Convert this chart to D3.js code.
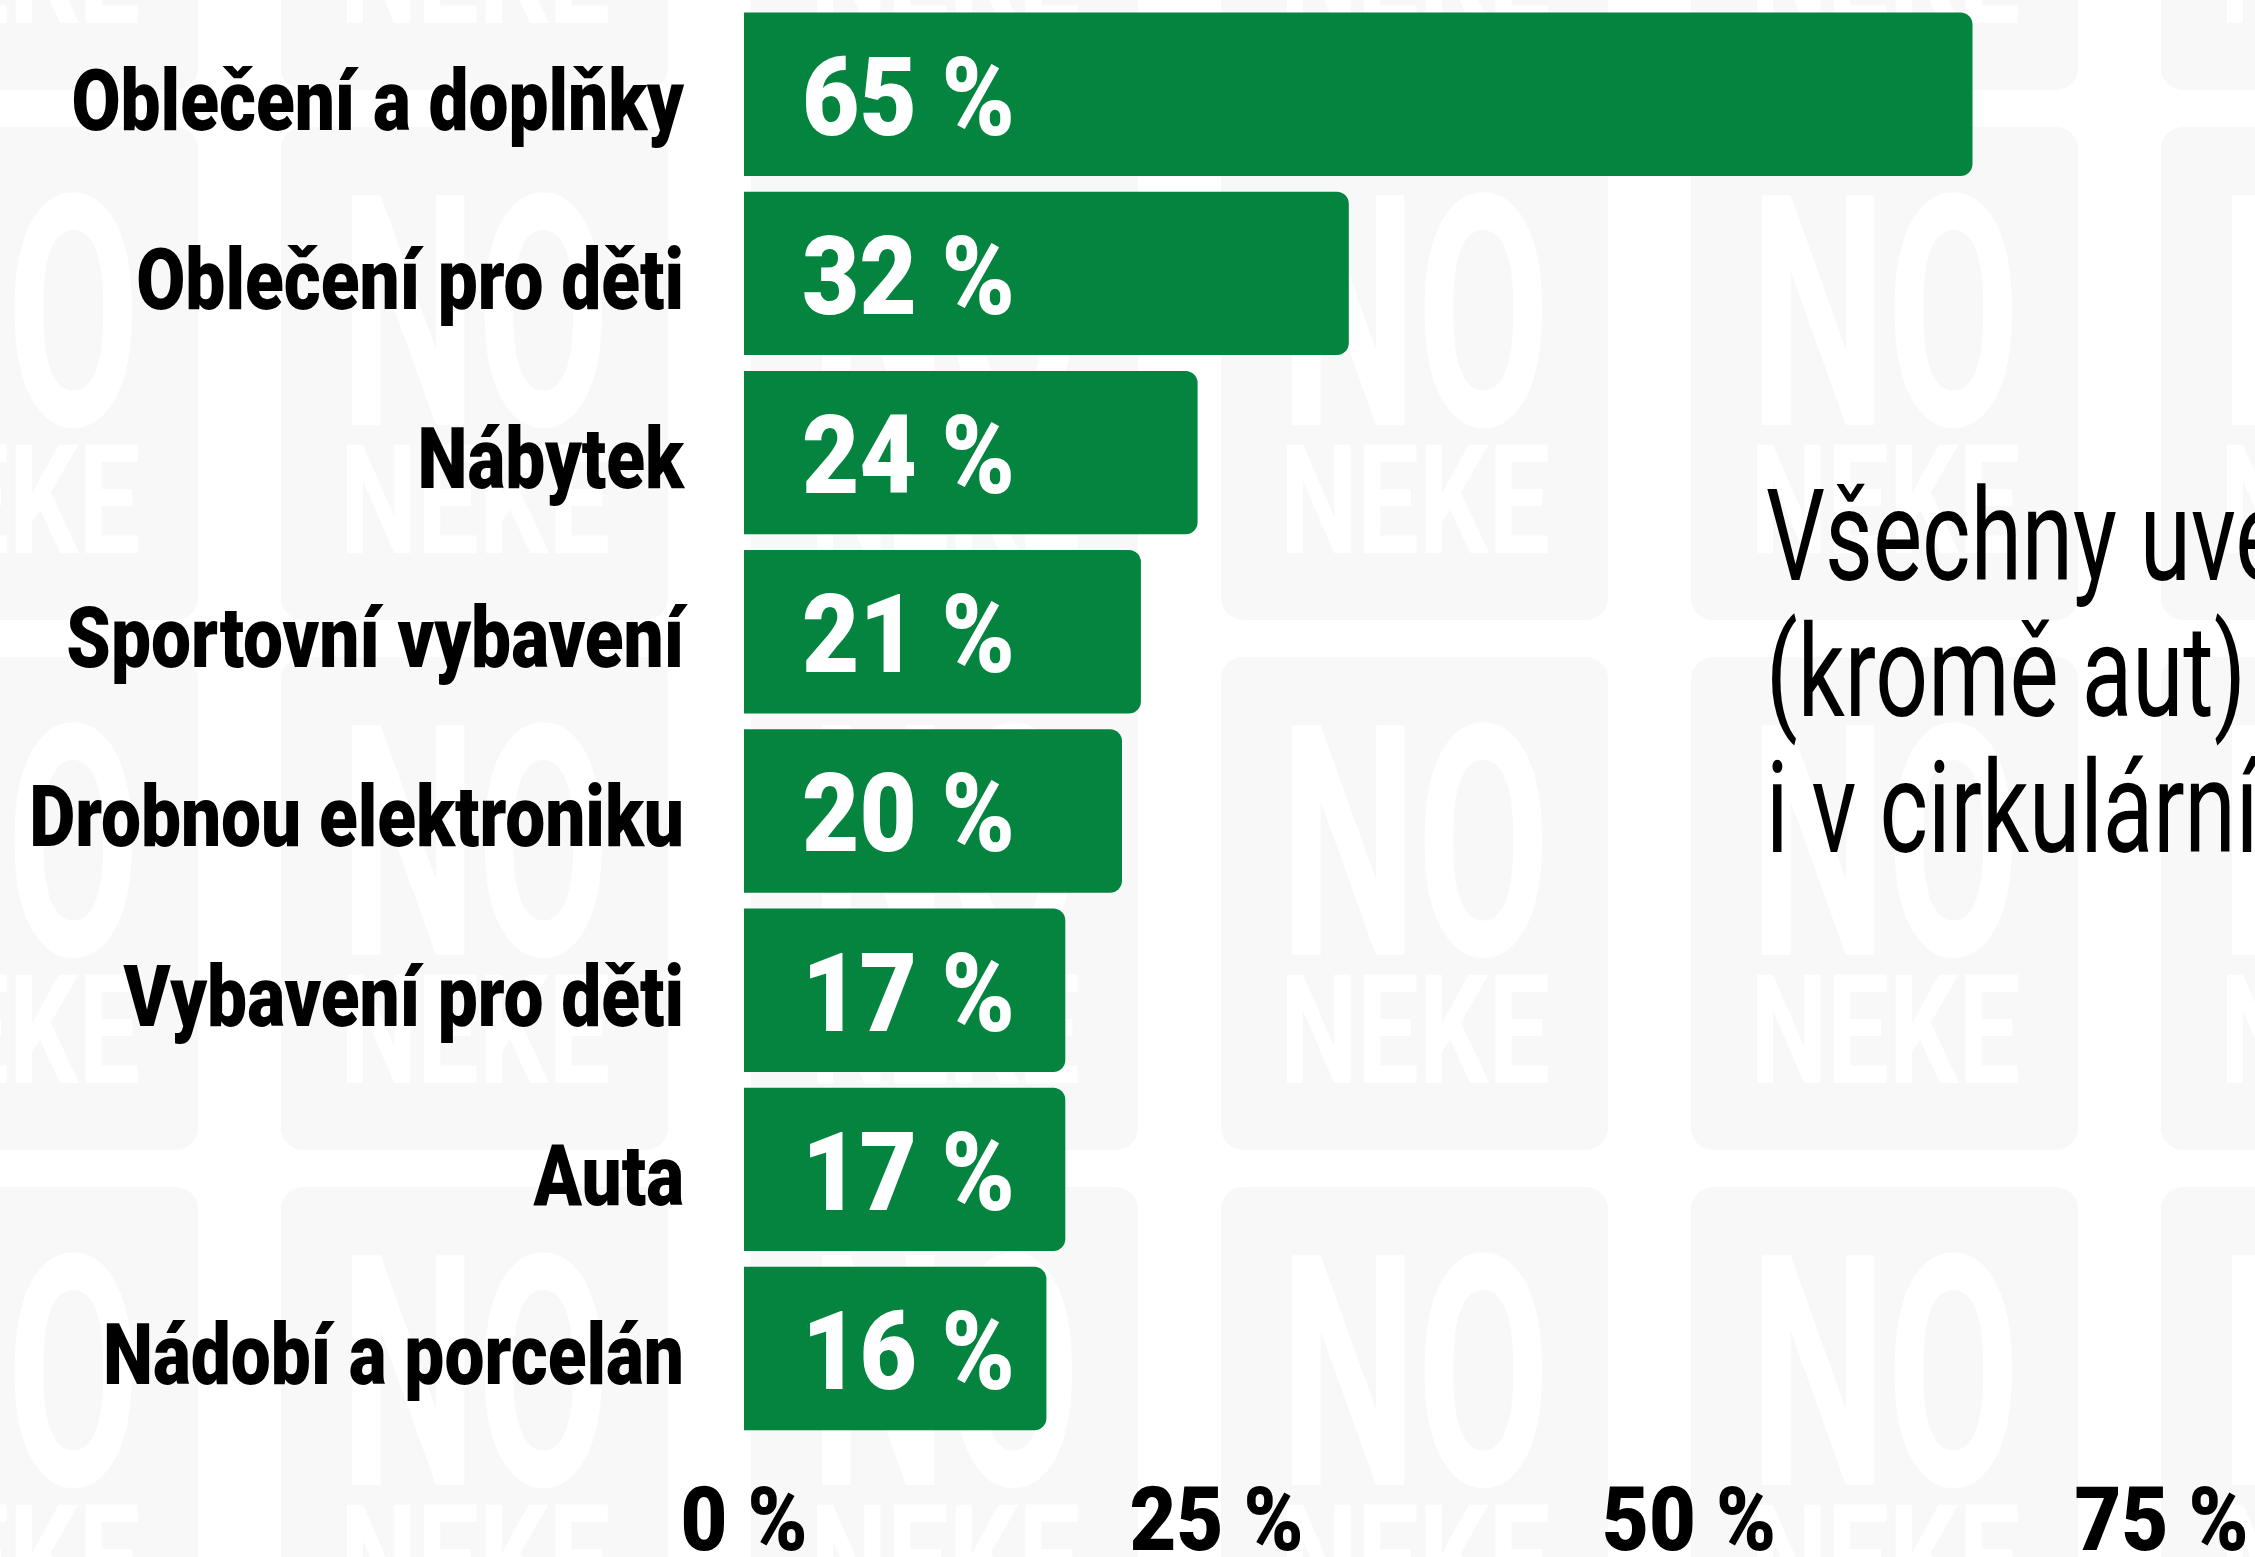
<!DOCTYPE html>
<html lang="cs">
<head>
<meta charset="UTF-8">
<title>Oblečení a doplňky</title>
<script src="https://cdn.jsdelivr.net/npm/d3@7"></script>
<style>
  html, body { margin: 0; padding: 0; background: #ffffff; overflow: hidden; }
  svg text { font-family: Roboto, "DejaVu Sans", sans-serif; }
</style>
</head>
<body>
<svg id="chart"></svg>
<script>
// data
const categories = [
  "Oblečení a doplňky",
  "Oblečení pro děti",
  "Nábytek",
  "Sportovní vybavení",
  "Drobnou elektroniku",
  "Vybavení pro děti",
  "Auta",
  "Nádobí a porcelán"
];
const values = [65, 32, 24, 21, 20, 17, 17, 16];
const ticks = [0, 25, 50, 75];
const noteLines = ["Všechny uvedené", "(kromě aut)", "i v cirkulární"];
const watermark = ["NO", "NEKE"];

const width = 2255, height = 1557;
const green = "#058440";

const svg = d3.select("#chart")
  .attr("width", width)
  .attr("height", height)
  .attr("viewBox", `0 0 ${width} ${height}`);

// background tiles with the watermark
const tileW = 387, tileH = 493, stepX = 470, stepY = 530;
const bg = svg.append("g");
for (let col = 0; col < 6; col++) {
  for (let row = 0; row < 4; row++) {
    const L = -189 + col * stepX;
    const T = -403 + row * stepY;
    bg.append("rect")
      .attr("x", L).attr("y", T)
      .attr("width", tileW).attr("height", tileH)
      .attr("rx", 22)
      .attr("fill", "#f8f8f8");
    bg.append("text")
      .attr("x", L + 59).attr("y", T + 298)
      .attr("font-size", 323).attr("font-weight", 700)
      .attr("textLength", 270).attr("lengthAdjust", "spacingAndGlyphs")
      .attr("fill", "#ffffff")
      .text(watermark[0]);
    bg.append("text")
      .attr("x", L + 59).attr("y", T + 426)
      .attr("font-size", 153).attr("font-weight", 700)
      .attr("textLength", 270).attr("lengthAdjust", "spacingAndGlyphs")
      .attr("fill", "#ffffff")
      .text(watermark[1]);
  }
}

// scales
const x = d3.scaleLinear().domain([0, 75]).range([744, 2161.5]);
const y = d3.scaleBand()
  .domain(categories)
  .range([12.5, 1430.3])
  .paddingInner(0.088)
  .paddingOuter(0);

// squeeze factor so a sample string gets the width it has in the picture
function squeeze(sample, size, weight, target) {
  const t = svg.append("text")
    .attr("font-size", size).attr("font-weight", weight)
    .text(sample);
  const w = t.node().getComputedTextLength();
  t.remove();
  return target / w;
}

function condensedText(parent, px, py, str, size, weight, sx, anchor, fill) {
  return parent.append("text")
    .attr("transform", `translate(${px},${py}) scale(${sx},1)`)
    .attr("font-size", size)
    .attr("font-weight", weight)
    .attr("text-anchor", anchor)
    .attr("fill", fill)
    .text(str);
}

const heavy = 900;
const catSize = 85, valSize = 110, tickSize = 89, noteSize = 128;
const catSx = squeeze("Drobnou elektroniku", catSize, heavy, 655);
const valSx = squeeze("65 %", valSize, heavy, 213);
const tickSx = squeeze("25 %", tickSize, heavy, 174);
const noteSx = squeeze("(kromě aut)", noteSize, 400, 480);

// bars, right side rounded
function barPath(x0, y0, w, h, r) {
  r = Math.min(r, w / 2, h / 2);
  return `M${x0},${y0}H${x0 + w - r}A${r},${r} 0 0 1 ${x0 + w},${y0 + r}` +
         `V${y0 + h - r}A${r},${r} 0 0 1 ${x0 + w - r},${y0 + h}H${x0}Z`;
}

const bars = svg.append("g");
categories.forEach((c, i) => {
  bars.append("path")
    .attr("d", barPath(x(0), y(c), x(values[i]) - x(0), y.bandwidth(), 12))
    .attr("fill", green);
});

// category labels
const labels = svg.append("g");
categories.forEach(c => {
  condensedText(labels, 684, y(c) + y.bandwidth() / 2 + 35.5, c,
    catSize, heavy, catSx, "end", "#000000");
});

// value labels inside bars
const valLabels = svg.append("g");
categories.forEach((c, i) => {
  condensedText(valLabels, 802, y(c) + y.bandwidth() / 2 + 40.5, values[i] + " %",
    valSize, heavy, valSx, "start", "#ffffff");
});

// x axis tick labels
const axis = svg.append("g");
ticks.forEach(t => {
  condensedText(axis, x(t), 1550, t + " %", tickSize, heavy, tickSx, "middle", "#000000");
});

// note on the right, cut by the picture edge
const note = svg.append("g");
noteLines.forEach((line, i) => {
  condensedText(note, 1766, 580 + i * 136, line, noteSize, 400, noteSx, "start", "#000000");
});
</script>
</body>
</html>
